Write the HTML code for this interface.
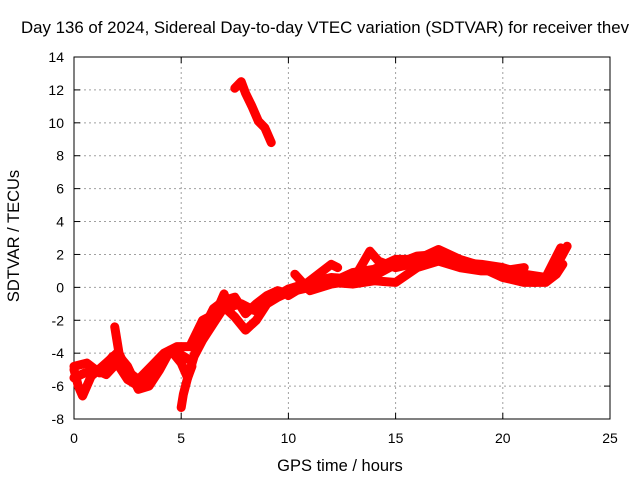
<!DOCTYPE html>
<html><head><meta charset="utf-8"><style>
body{margin:0;background:#fff}
svg text{font-family:"Liberation Sans",sans-serif;font-size:14px;fill:#000}
svg text.big{font-size:16.5px}
</style></head><body>
<svg width="640" height="480">
<rect width="640" height="480" fill="#fff"/>
<text class="big" x="325" y="33" text-anchor="middle" textLength="608" lengthAdjust="spacingAndGlyphs">Day 136 of 2024, Sidereal Day-to-day VTEC variation (SDTVAR) for receiver thev</text>
<g id="grid"></g>
<g id="axes"></g>
<g id="series"></g>
<text class="big" x="340" y="471" text-anchor="middle">GPS time / hours</text>
<text class="big" transform="translate(19,236) rotate(-90)" text-anchor="middle">SDTVAR / TECUs</text>
</svg>
<script>
const xTicks=[0,5,10,15,20,25];
const yTicks=[-8,-6,-4,-2,0,2,4,6,8,10,12,14];
const tA_x=[0,0.5,1,1.5,2,2.5,3,3.5,4,4.5,5,5.5,6,6.5,7,7.5,8,8.5,9,9.5,10];
const tA_y=[-5.5,-5.2,-5.0,-5.3,-4.6,-5.6,-6.0,-5.4,-4.4,-3.9,-4.1,-4.5,-2.6,-1.3,-0.8,-0.6,-1.6,-1.0,-0.5,-0.2,-0.4];
const tB_x=[0,0.2,0.4,0.8,1.5,2,2.5,3,3.5,4,4.5,5,5.3,5.6,6,6.5,7,7.5,8,8.5,9,9.5,10];
const tB_y=[-5.0,-6.0,-6.6,-5.4,-4.6,-4.0,-4.8,-6.2,-6.0,-5.0,-3.8,-4.6,-5.5,-4.2,-3.2,-2.2,-1.2,-1.8,-2.6,-2.0,-1.0,-0.6,-0.3];
const tF_x=[0,0.6,1.2,1.8,2.4,3,3.6,4.2,4.8,5.4,6,6.6,7.2,7.8,8.4,9,9.6,10];
const tF_y=[-4.8,-4.6,-5.2,-4.2,-5.0,-5.6,-4.8,-4.0,-3.6,-3.6,-2.0,-1.6,-1.2,-1.0,-1.4,-0.8,-0.4,-0.1];
const tC_x=[1.9,2.0,2.1,2.3];
const tC_y=[-2.4,-3.2,-4.0,-4.6];
const tD_x=[5.0,5.1,5.3,5.5];
const tD_y=[-7.3,-6.5,-5.5,-4.8];
const tE_x=[6.3,6.8,7.0,7.3];
const tE_y=[-2.0,-1.0,-0.4,-1.5];
const tH_x=[7.5,7.8,8.0,8.3,8.6,8.9,9.2];
const tH_y=[12.1,12.5,11.8,11.0,10.1,9.7,8.8];
const tM1_x=[10,10.5,11,11.5,12,12.3];
const tM1_y=[-0.5,-0.1,0.4,0.9,1.4,1.2];
const tM2_x=[10,11,12,13,14,15,16,17,18,19,20,21,21.5,22,22.5,23];
const tM2_y=[-0.3,0.0,0.3,0.2,0.4,0.3,1.2,1.6,1.2,1.0,1.0,0.4,0.3,0.5,1.3,2.5];
const tM3_x=[12.5,13,14,15,16,17,18,19,20,21];
const tM3_y=[0.6,0.9,1.1,1.7,1.7,2.3,1.7,1.3,1.0,1.2];
const tM4_x=[10.3,11,12,13,13.8,14.2,15,16,17,18,19,20,21,22,22.5,22.8];
const tM4_y=[0.8,-0.2,0.2,0.4,2.2,1.6,1.2,1.5,1.8,1.4,1.2,0.6,0.3,0.3,0.8,1.4];
const tM5_x=[10,11,12,13,14,15,16,17,18,19,20,21,22,22.7];
const tM5_y=[-0.1,0.3,0.6,0.5,0.7,1.4,1.9,2.0,1.5,1.4,1.2,0.8,0.6,2.4];
const series=[[tA_x,tA_y],[tB_x,tB_y],[tF_x,tF_y],[tC_x,tC_y],[tD_x,tD_y],[tE_x,tE_y],[tH_x,tH_y],[tM1_x,tM1_y],[tM2_x,tM2_y],[tM3_x,tM3_y],[tM4_x,tM4_y],[tM5_x,tM5_y]];
const X0=74,X1=610,Y0=419,Y1=57;
const xs=v=>X0+(v-0)/25*(X1-X0);
const ys=v=>Y0-(v+8)/22*(Y0-Y1);
const NS="http://www.w3.org/2000/svg";
function mk(t,a,p){const e=document.createElementNS(NS,t);for(const k in a)e.setAttribute(k,a[k]);p.appendChild(e);return e;}
const grid=document.getElementById('grid'),axes=document.getElementById('axes'),ser=document.getElementById('series');
xTicks.forEach(t=>{const x=xs(t);
 if(t>0&&t<25){const l=mk('line',{x1:x,x2:x,y1:Y1,y2:Y0,stroke:'#a0a0a0','stroke-dasharray':'2,3'},grid);
 
 }
 const tx=mk('text',{x:x,y:Y0+24,'text-anchor':'middle'},axes);tx.textContent=t;
 
 
 mk('line',{x1:x,x2:x,y1:Y0,y2:Y0-6,stroke:'#000'},axes);mk('line',{x1:x,x2:x,y1:Y1,y2:Y1+6,stroke:'#000'},axes);});
yTicks.forEach(t=>{const y=ys(t);
 if(t>-8&&t<14){const l=mk('line',{x1:X0,x2:X1,y1:y,y2:y,stroke:'#a0a0a0','stroke-dasharray':'2,3'},grid);
 
 }
 const tx=mk('text',{x:X0-10,y:y+5,'text-anchor':'end'},axes);tx.textContent=t;
 
 
 mk('line',{x1:X0,x2:X0+6,y1:y,y2:y,stroke:'#000'},axes);mk('line',{x1:X1,x2:X1-6,y1:y,y2:y,stroke:'#000'},axes);});
const fr=mk('rect',{x:X0,y:Y1,width:X1-X0,height:Y0-Y1,fill:'none',stroke:'#000'},axes);


series.forEach(([sx,sy],i)=>{
 const pts=sx.map((v,j)=>xs(v)+','+ys(sy[j])).join(' ');
 const pl=mk('polyline',{points:pts,fill:'none',stroke:'#ff0000','stroke-width':9,'stroke-linejoin':'round','stroke-linecap':'round'},ser);
 
 
});
</script>
</body></html>
